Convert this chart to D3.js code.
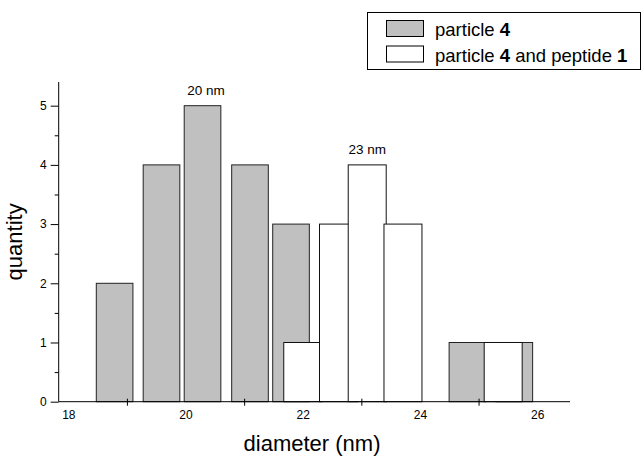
<!DOCTYPE html>
<html><head><meta charset="utf-8">
<script src="https://cdn.jsdelivr.net/npm/d3@7"></script>
<style>
body{margin:0;background:#fff}
svg{display:block}
text{font-family:"Liberation Sans",Arial,Helvetica,sans-serif;fill:#000}
</style>
</head><body>
<svg id="chart" width="644" height="459"></svg>
<script>
// ---- data ----
const seriesNames = ["particle 4", "particle 4 and peptide 1"];
const particleDiameters = [18.79, 19.59, 20.29, 21.10, 21.80, 24.81, 25.61];
const particleCounts    = [2, 4, 5, 4, 3, 1, 1];
const peptideDiameters  = [22.00, 22.61, 23.10, 23.71, 25.42];
const peptideCounts     = [1, 3, 4, 3, 1];
const xTickLabels = [18, 20, 22, 24, 26];
const xTickMarks  = [19, 21, 23, 25];
const yTickLabels = [0, 1, 2, 3, 4, 5];
const yMinorTicks = [0.5, 1.5, 2.5, 3.5, 4.5];
const peakLabels = ["20 nm", "23 nm"];
const peakX = [20.35, 23.10];
const peakY = [5, 4];

// ---- layout ----
const svg = d3.select("#chart");
const x = d3.scaleLinear().domain([17.836, 26.56]).range([58.7, 570]);
const y = d3.scaleLinear().domain([0, 5.4]).range([401.7, 82]);
const grayW = 0.625, whiteW = 0.648;

const particle = particleDiameters.map((d, i) => ({d, c: particleCounts[i]}));
const peptide = peptideDiameters.map((d, i) => ({d, c: peptideCounts[i]}));

// bars: particle 4 (gray)
svg.append("g").selectAll("rect").data(particle).join("rect")
  .attr("x", p => x(p.d - grayW / 2))
  .attr("width", p => x(p.d + grayW / 2) - x(p.d - grayW / 2))
  .attr("y", p => y(p.c))
  .attr("height", p => y(0) - y(p.c))
  .attr("fill", "#c0c0c0").attr("stroke", "#222").attr("stroke-width", 1);

// bars: particle 4 and peptide 1 (white)
svg.append("g").selectAll("rect").data(peptide).join("rect")
  .attr("x", p => x(p.d - whiteW / 2))
  .attr("width", p => x(p.d + whiteW / 2) - x(p.d - whiteW / 2))
  .attr("y", p => y(p.c))
  .attr("height", p => y(0) - y(p.c))
  .attr("fill", "#fff").attr("stroke", "#111").attr("stroke-width", 1);

// y axis
const yAxis = d3.axisLeft(y).tickValues(yTickLabels).tickFormat(d3.format("d")).tickSize(8).tickPadding(4);
const gy = svg.append("g").attr("transform", `translate(${x.range()[0]},0)`).call(yAxis);
gy.select(".domain").attr("d", `M0,${y.range()[0]}V${y.range()[1]}`).attr("stroke", "#000");
gy.selectAll(".tick text").attr("font-size", 12).attr("font-family", "Liberation Sans, Arial, sans-serif");
gy.selectAll(".tick line").attr("stroke", "#000");
const gyMinor = svg.append("g").attr("transform", `translate(${x.range()[0]},0)`)
  .call(d3.axisLeft(y).tickValues(yMinorTicks).tickFormat("").tickSize(4));
gyMinor.select(".domain").remove();
gyMinor.selectAll(".tick line").attr("stroke", "#000");

// x axis: labels at even values, tick marks crossing the axis at odd values
const gx = svg.append("g").attr("transform", `translate(0,${y(0)})`)
  .call(d3.axisBottom(x).tickValues(xTickLabels).tickFormat(d3.format("d")).tickSize(0).tickPadding(9));
gx.select(".domain").attr("d", `M${x.range()[0]},0H${x.range()[1]}`).attr("stroke", "#000");
gx.selectAll(".tick text").attr("font-size", 12).attr("font-family", "Liberation Sans, Arial, sans-serif");
const gxMarks = svg.append("g").attr("transform", `translate(0,${y(0)})`)
  .call(d3.axisBottom(x).tickValues(xTickMarks).tickFormat("").tickSize(4));
gxMarks.select(".domain").remove();
gxMarks.selectAll(".tick line").attr("y1", -3).attr("stroke", "#000");

// axis titles
svg.append("text").attr("x", 312).attr("y", 451).attr("text-anchor", "middle")
  .attr("font-size", 22).text("diameter (nm)");
svg.append("text").attr("transform", `translate(22,${(y.range()[0] + y.range()[1]) / 2}) rotate(-90)`)
  .attr("text-anchor", "middle").attr("font-size", 22).text("quantity");

// peak annotations
svg.append("g").selectAll("text").data(peakLabels).join("text")
  .attr("x", (t, i) => x(peakX[i]))
  .attr("y", (t, i) => y(peakY[i]) - 10.5)
  .attr("text-anchor", "middle").attr("font-size", 13.5).text(t => t);

// legend
const lg = svg.append("g");
lg.append("rect").attr("x", 367.5).attr("y", 12.5).attr("width", 273).attr("height", 57)
  .attr("fill", "#fff").attr("stroke", "#000").attr("stroke-width", 1);
const legendFills = ["#c0c0c0", "#fff"];
seriesNames.forEach((name, i) => {
  const yy = 20.5 + i * 25.5;
  lg.append("rect").attr("x", 386.5).attr("y", yy).attr("width", 37).attr("height", 16)
    .attr("fill", legendFills[i]).attr("stroke", "#000");
  const t = lg.append("text").attr("x", 435).attr("y", yy + 15.5).attr("font-size", 18.5);
  name.split(/(\b\d\b)/).filter(s => s.length).forEach(part => {
    t.append("tspan").attr("font-weight", /^\d$/.test(part) ? "bold" : "normal").text(part);
  });
});
</script>
</body></html>
